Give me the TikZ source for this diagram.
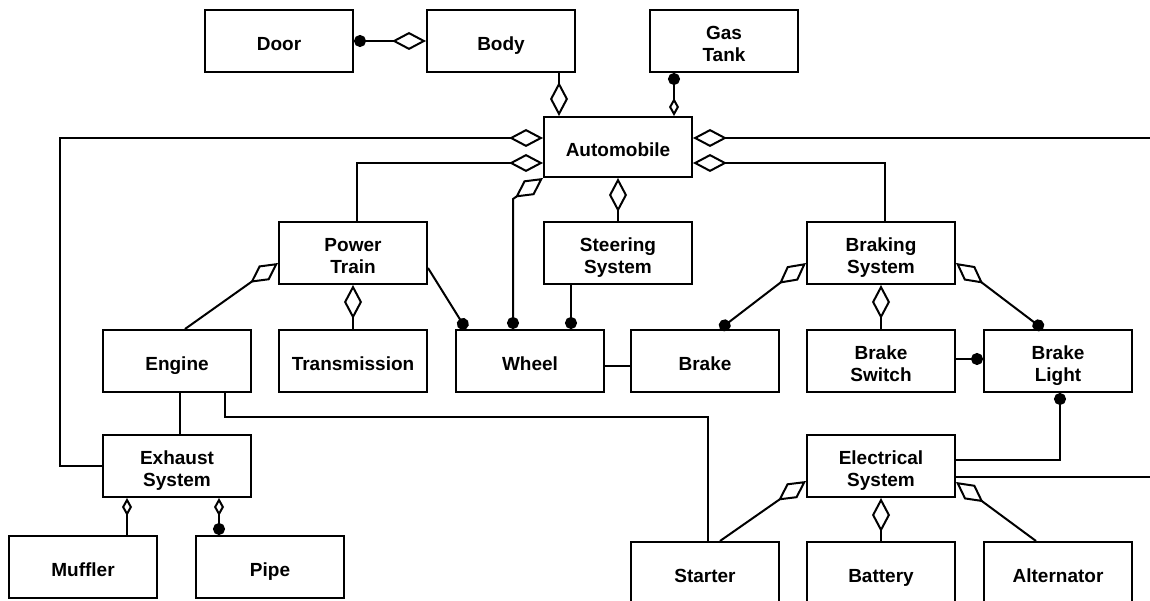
\documentclass[tikz,border=0pt]{standalone}
\usepackage{fontspec}
\setmainfont{Liberation Sans}
\usetikzlibrary{arrows.meta}
\tikzset{
  box/.style={draw, line width=2pt, rectangle, minimum width=148pt,
    minimum height=62pt, inner sep=0pt, align=center,
    font=\fontsize{19}{22}\selectfont\bfseries},
  one/.style={box, text height=18.6pt, text depth=0pt},
  two/.style={box, text height=40.6pt, text depth=0pt},
  link/.style={line width=2pt},
  agg/.tip={Diamond[open,length=34pt,width=18pt]},
  sagg/.tip={Diamond[open,length=18pt,width=10pt]},
  dt/.tip={Circle[length=12pt]},
}
\begin{document}
\begin{tikzpicture}[x=1pt,y=-1pt]
\fill[white] (0,0) rectangle (1150,601);
\useasboundingbox (0,0) rectangle (1150,601);
\clip (0,0) rectangle (1150,601);

% classes
\node[one] (door) at (279,41)    {Door};
\node[one] (body) at (501,41)    {Body};
\node[two] (gas)  at (724,41)    {Gas\\Tank};
\node[one, minimum height=60pt] (auto) at (618,147) {Automobile};
\node[two] (pt)   at (353,253)   {Power\\Train};
\node[two] (st)   at (618,253)   {Steering\\System};
\node[two] (bs)   at (881,253)   {Braking\\System};
\node[one] (eng)  at (177,361)   {Engine};
\node[one] (tr)   at (353,361)   {Transmission};
\node[one] (wh)   at (530,361)   {Wheel};
\node[one] (br)   at (705,361)   {Brake};
\node[two] (bsw)  at (881,361)   {Brake\\Switch};
\node[two] (bl)   at (1058,361)  {Brake\\Light};
\node[two] (exh)  at (177,466)   {Exhaust\\System};
\node[two] (el)   at (881,466)   {Electrical\\System};
\node[one] (muf)  at (83,567)    {Muffler};
\node[one] (pipe) at (270,567)   {Pipe};
\node[one] (sta)  at (705,573)   {Starter};
\node[one] (bat)  at (881,573)   {Battery};
\node[one] (alt)  at (1058,573)  {Alternator};

% corner and edge points
\coordinate (lc)  at (60,138);
\coordinate (er1) at (1150,138);
\coordinate (er2) at (1150,477);
\coordinate (ej)  at (708,417);

% associations
\draw[link,dt-agg] (door.east) -- (body.west);
\draw[link,-agg] ([xshift=58]body.south) -- ([xshift=58]body.south |- auto.north);
\draw[link,dt-sagg] ([xshift=-50]gas.south) -- ([xshift=-50]gas.south |- auto.north);
\draw[link,-agg] (exh.west) -| (lc) -- (auto.west |- lc);
\draw[link,-agg] ([xshift=4]pt.north) |- ([yshift=-16]auto.west);
\draw[link,-agg] (er1) -- (auto.east |- er1);
\draw[link,-agg] ([xshift=4]bs.north) |- ([yshift=-16]auto.east);
\draw[link,dt-agg] ([xshift=-17]wh.north) -- ++(0,-130) -- (auto.south west);
\draw[link,agg-] (auto.south) -- (st.north);

\draw[link,agg-] ([yshift=-10]pt.west) -- ([xshift=8]eng.north);
\draw[link,agg-] (pt.south) -- (tr.north);
\draw[link,-dt] ([yshift=-15]pt.east) -- ([xshift=-64]wh.north);
\draw[link,-dt] ([xshift=-47]st.south) -- ([xshift=-47]st.south |- wh.north);
\draw[link] ([yshift=-5]wh.east) -- ([yshift=-5]br.west);

\draw[link,agg-dt] ([yshift=-10]bs.west) -- ([xshift=15]br.north);
\draw[link,agg-] (bs.south) -- (bsw.north);
\draw[link,agg-dt] ([yshift=-10]bs.east) -- ([xshift=-15]bl.north);
\draw[link,-dt] ([yshift=2]bsw.east) -- ([yshift=2]bl.west);

\draw[link,dt-] ([xshift=2]bl.south) |- ([yshift=6]el.east);
\draw[link] ([yshift=-11]el.east) -- (er2);
\draw[link,agg-] ([yshift=-15]el.west) -- ([xshift=15]sta.north);
\draw[link,agg-] (el.south) -- (bat.north);
\draw[link,agg-] ([yshift=-16]el.east) -- ([xshift=-22]alt.north);

\draw[link] ([xshift=48]eng.south) |- (ej) -- (ej |- sta.north);
\draw[link] ([xshift=3]eng.south) -- ([xshift=3]eng.south |- exh.north);
\draw[link,sagg-] ([xshift=-50]exh.south) -- ([xshift=-50]exh.south |- muf.north);
\draw[link,sagg-dt] ([xshift=42]exh.south) -- ([xshift=42]exh.south |- pipe.north);
\end{tikzpicture}
\end{document}
